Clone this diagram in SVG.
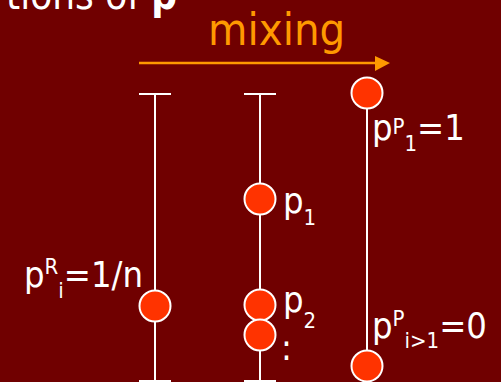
<svg xmlns="http://www.w3.org/2000/svg" width="501" height="382" viewBox="0 0 501 382">
<style>
.ln{stroke:#ffffff;stroke-width:2;fill:none}
.dot{fill:#ff3300;stroke:#ffffff;stroke-width:2}
.t{fill:#ffffff;font-family:"DejaVu Sans Condensed","DejaVu Sans",sans-serif;font-size:36px}
.s{font-size:22px}
</style>
<rect width="501" height="382" fill="#700000"/>
<text x="177" y="9" text-anchor="end" class="t" style="font-size:40px">tions of <tspan font-weight="bold">p</tspan></text>
<g id="title-mixing">
<text x="208" y="45" fill="#ff9900" font-family="DejaVu Sans Condensed, DejaVu Sans, sans-serif" font-size="45">mixing</text>
</g>
<g id="connectors">
<line x1="139" y1="63" x2="378" y2="63" stroke="#ff9900" stroke-width="2.5"/>
<polygon points="375,56 390,63 375,71" fill="#ff9900"/>
<line class="ln" x1="155" y1="94" x2="155" y2="382"/>
<line class="ln" x1="139" y1="94" x2="171" y2="94"/>
<line class="ln" x1="139" y1="381" x2="171" y2="381"/>
<line class="ln" x1="260" y1="94" x2="260" y2="382"/>
<line class="ln" x1="244" y1="94" x2="276" y2="94"/>
<line class="ln" x1="244" y1="381" x2="276" y2="381"/>
<line class="ln" x1="367" y1="93" x2="367" y2="366"/>
</g>
<g id="node-r">
<circle class="dot" cx="155" cy="306" r="15.5"/>
<text class="t" x="24" y="287">p<tspan class="s" y="274">R</tspan><tspan class="s" y="298">i</tspan><tspan y="287">=1/n</tspan></text>
</g>
<g id="node-p1">
<circle class="dot" cx="260" cy="199" r="15.5"/>
<text class="t" x="283" y="213">p<tspan class="s" y="225">1</tspan></text>
</g>
<g id="node-p2">
<circle class="dot" cx="260" cy="305" r="15.5"/>
<circle class="dot" cx="260" cy="335" r="15.5"/>
<text class="t" x="283" y="312">p<tspan class="s" y="328">2</tspan></text>
<text class="t" x="281" y="360">:</text>
</g>
<g id="node-pp1">
<circle class="dot" cx="367" cy="93" r="15.5"/>
<text class="t" x="372" y="140">p<tspan class="s" y="134">P</tspan><tspan class="s" y="151">1</tspan><tspan y="140">=1</tspan></text>
</g>
<g id="node-ppi">
<circle class="dot" cx="367" cy="366" r="15.5"/>
<text class="t" x="372" y="338">p<tspan class="s" y="326">P</tspan><tspan class="s" y="348">i&gt;1</tspan><tspan y="338">=0</tspan></text>
</g>
</svg>
